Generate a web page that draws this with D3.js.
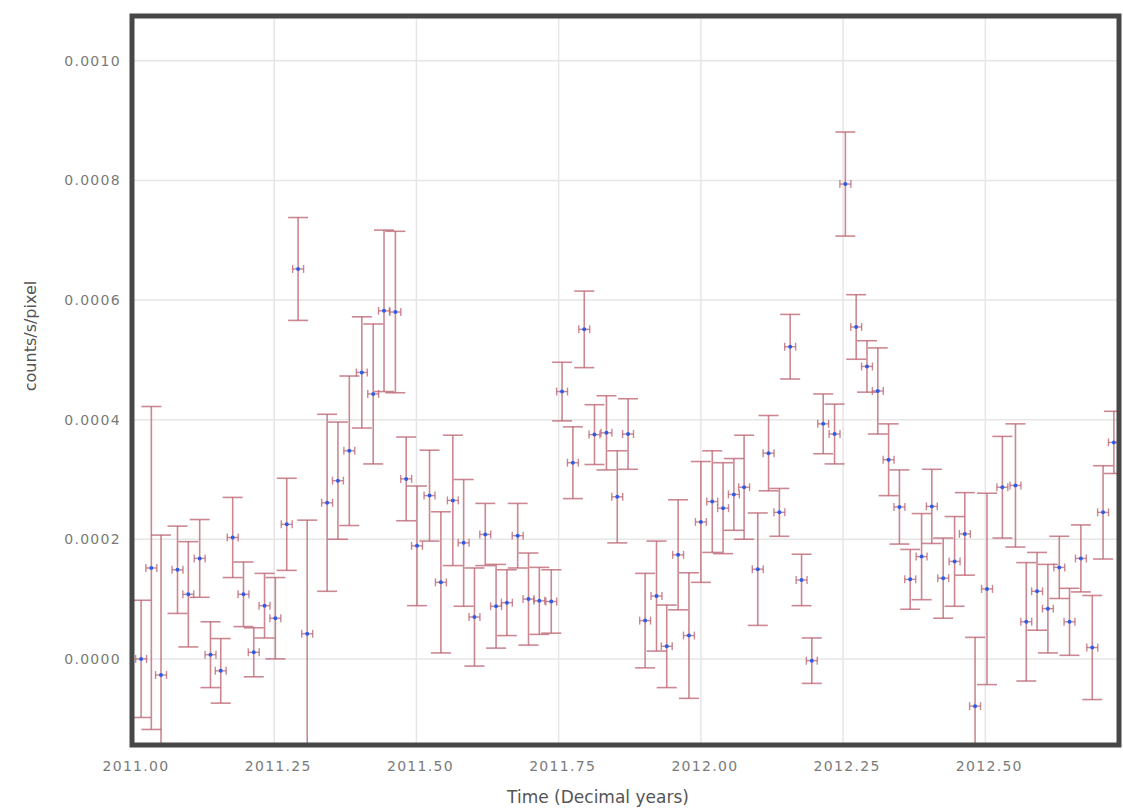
<!DOCTYPE html>
<html lang="en">
<head>
    <meta charset="UTF-8"/>
    <title>Light curve</title>
    <script src="https://d3js.org/d3.v7.min.js"></script>
    <style type="text/css">
        body {
            margin: 0;
            background: #fff;
        }
        text {
            font-family: "DejaVu Sans", Verdana, sans-serif;
        }
        .tick-label {
            font-size: 14px;
            fill: #7a7a7a;
            letter-spacing: 1.3px;
        }
        .axis-title {
            fill: #555;
        }
    </style>
</head>
<body>
<div id="chart"></div>
<script>
    // time of each bin (decimal years)
    const times = [
        2011.016, 2011.034, 2011.051, 2011.080, 2011.099, 2011.119, 2011.138, 2011.156, 2011.177, 2011.196,
        2011.214, 2011.233, 2011.252, 2011.272, 2011.292, 2011.308, 2011.343, 2011.362, 2011.382, 2011.404,
        2011.424, 2011.443, 2011.463, 2011.482, 2011.501, 2011.523, 2011.543, 2011.564, 2011.583, 2011.602,
        2011.621, 2011.640, 2011.659, 2011.678, 2011.697, 2011.716, 2011.737, 2011.756, 2011.775, 2011.795,
        2011.813, 2011.834, 2011.853, 2011.872, 2011.902, 2011.922, 2011.940, 2011.960, 2011.979, 2012.000,
        2012.020, 2012.039, 2012.058, 2012.076, 2012.100, 2012.119, 2012.138, 2012.157, 2012.177, 2012.195,
        2012.215, 2012.235, 2012.254, 2012.273, 2012.292, 2012.311, 2012.330, 2012.349, 2012.368, 2012.388,
        2012.406, 2012.426, 2012.446, 2012.464, 2012.482, 2012.503, 2012.530, 2012.553, 2012.572, 2012.591,
        2012.610, 2012.630, 2012.648, 2012.668, 2012.688, 2012.707, 2012.726
    ];

    // count rate (counts/s/pixel)
    const rates = [
        0.000000, 0.000152, -0.000027, 0.000149, 0.000108, 0.000168, 0.000007, -0.000020, 0.000203, 0.000108,
        0.000011, 0.000089, 0.000068, 0.000225, 0.000652, 0.000042, 0.000261, 0.000298, 0.000348, 0.000479,
        0.000443, 0.000582, 0.000580, 0.000301, 0.000189, 0.000273, 0.000128, 0.000265, 0.000194, 0.000070,
        0.000208, 0.000088, 0.000094, 0.000206, 0.000100, 0.000097, 0.000096, 0.000447, 0.000328, 0.000551,
        0.000375, 0.000378, 0.000271, 0.000376, 0.000064, 0.000105, 0.000021, 0.000174, 0.000039, 0.000229,
        0.000263, 0.000252, 0.000275, 0.000287, 0.000150, 0.000344, 0.000245, 0.000522, 0.000132, -0.000003,
        0.000393, 0.000376, 0.000794, 0.000555, 0.000489, 0.000448, 0.000333, 0.000254, 0.000133, 0.000171,
        0.000255, 0.000135, 0.000163, 0.000209, -0.000079, 0.000117, 0.000287, 0.000290, 0.000062, 0.000113,
        0.000084, 0.000153, 0.000062, 0.000168, 0.000019, 0.000245, 0.000362
    ];

    // 1-sigma error on the rate
    const errors = [
        0.000098, 0.000270, 0.000234, 0.000073, 0.000088, 0.000065, 0.000055, 0.000054, 0.000067, 0.000054,
        0.000041, 0.000054, 0.000068, 0.000077, 0.000086, 0.000190, 0.000148, 0.000098, 0.000125, 0.000093,
        0.000117, 0.000135, 0.000135, 0.000070, 0.000100, 0.000076, 0.000118, 0.000109, 0.000106, 0.000082,
        0.000052, 0.000070, 0.000055, 0.000054, 0.000077, 0.000056, 0.000053, 0.000049, 0.000060, 0.000064,
        0.000050, 0.000062, 0.000077, 0.000059, 0.000079, 0.000092, 0.000069, 0.000092, 0.000105, 0.000101,
        0.000085, 0.000076, 0.000060, 0.000087, 0.000094, 0.000063, 0.000040, 0.000054, 0.000043, 0.000038,
        0.000050, 0.000050, 0.000087, 0.000054, 0.000043, 0.000072, 0.000060, 0.000062, 0.000050, 0.000072,
        0.000062, 0.000067, 0.000075, 0.000069, 0.000115, 0.000160, 0.000085, 0.000103, 0.000099, 0.000065,
        0.000074, 0.000052, 0.000056, 0.000056, 0.000087, 0.000078, 0.000052
    ];

    // half width of each time bin (years)
    const binHalfWidth = 0.0096;

    const xTicks = [2011.00, 2011.25, 2011.50, 2011.75, 2012.00, 2012.25, 2012.50];
    const yTicks = [0.0000, 0.0002, 0.0004, 0.0006, 0.0008, 0.0010];

    const data = times.map(function(t, i) {
        return {t: t, v: rates[i], e: errors[i]};
    });

    // plot box in page pixels
    const W = 1123, H = 812;
    const box = {left: 132, right: 1119, top: 16, bottom: 745};

    const svg = d3.select("#chart")
        .append("svg")
        .attr("width", W)
        .attr("height", H);

    const x = d3.scaleLinear()
        .domain([2011.0, 2012.735])
        .range([box.left, box.right]);

    const y = d3.scaleLinear()
        .domain([-0.000144, 0.001075])
        .range([box.bottom, box.top]);

    svg.append("defs").append("clipPath")
        .attr("id", "plot-clip")
        .append("rect")
        .attr("x", box.left)
        .attr("y", box.top - 2)
        .attr("width", box.right - box.left)
        .attr("height", box.bottom - box.top + 4);

    // grid
    const grid = svg.append("g");
    grid.selectAll("line.vx")
        .data(xTicks)
        .enter().append("line")
        .attr("x1", d => x(d)).attr("x2", d => x(d))
        .attr("y1", box.top).attr("y2", box.bottom)
        .attr("stroke", "#e6e6e6")
        .attr("stroke-width", 1.5);
    grid.selectAll("line.hy")
        .data(yTicks)
        .enter().append("line")
        .attr("x1", box.left).attr("x2", box.right)
        .attr("y1", d => y(d)).attr("y2", d => y(d))
        .attr("stroke", "#e6e6e6")
        .attr("stroke-width", 1.5);

    // tick labels
    svg.append("g")
        .selectAll("text")
        .data(yTicks)
        .enter().append("text")
        .attr("class", "tick-label")
        .attr("x", 121)
        .attr("y", d => y(d))
        .attr("text-anchor", "end")
        .attr("dominant-baseline", "central")
        .text(d => d3.format(".4f")(d));

    svg.append("g")
        .selectAll("text")
        .data(xTicks)
        .enter().append("text")
        .attr("class", "tick-label")
        .attr("x", d => x(d) + 4)
        .attr("y", 771)
        .attr("text-anchor", "middle")
        .text(d => d3.format(".2f")(d));

    // axis titles
    svg.append("text")
        .attr("class", "axis-title")
        .attr("x", 598)
        .attr("y", 803)
        .attr("text-anchor", "middle")
        .style("font-size", "17px")
        .text("Time (Decimal years)");

    svg.append("text")
        .attr("class", "axis-title")
        .attr("transform", "translate(36,336) rotate(-90)")
        .attr("text-anchor", "middle")
        .style("font-size", "16px")
        .text("counts/s/pixel");

    // error bars and points
    const yMin = y.domain()[0];
    const errColor = "#b9606d";
    const marks = svg.append("g").attr("clip-path", "url(#plot-clip)");
    const capHalf = 10;

    const pts = marks.selectAll("g.pt")
        .data(data)
        .enter().append("g")
        .attr("class", "pt");

    // vertical error bar
    pts.append("line")
        .attr("x1", d => x(d.t)).attr("x2", d => x(d.t))
        .attr("y1", d => y(d.v + d.e))
        .attr("y2", d => y(Math.max(yMin, d.v - d.e)))
        .attr("stroke", errColor).attr("stroke-opacity", 0.75).attr("stroke-width", 1.6);
    pts.append("line")
        .attr("x1", d => x(d.t) - capHalf).attr("x2", d => x(d.t) + capHalf)
        .attr("y1", d => y(d.v + d.e)).attr("y2", d => y(d.v + d.e))
        .attr("stroke", errColor).attr("stroke-opacity", 0.75).attr("stroke-width", 1.6);
    pts.append("line")
        .attr("x1", d => x(d.t) - capHalf).attr("x2", d => x(d.t) + capHalf)
        .attr("y1", d => y(Math.max(yMin, d.v - d.e))).attr("y2", d => y(Math.max(yMin, d.v - d.e)))
        .attr("stroke", errColor).attr("stroke-opacity", 0.75).attr("stroke-width", 1.6);

    // horizontal (bin width) error bar
    pts.append("line")
        .attr("x1", d => x(d.t - binHalfWidth)).attr("x2", d => x(d.t + binHalfWidth))
        .attr("y1", d => y(d.v)).attr("y2", d => y(d.v))
        .attr("stroke", errColor).attr("stroke-opacity", 0.75).attr("stroke-width", 1.4);
    pts.append("line")
        .attr("x1", d => x(d.t - binHalfWidth)).attr("x2", d => x(d.t - binHalfWidth))
        .attr("y1", d => y(d.v) - 4).attr("y2", d => y(d.v) + 4)
        .attr("stroke", errColor).attr("stroke-opacity", 0.75).attr("stroke-width", 1.4);
    pts.append("line")
        .attr("x1", d => x(d.t + binHalfWidth)).attr("x2", d => x(d.t + binHalfWidth))
        .attr("y1", d => y(d.v) - 4).attr("y2", d => y(d.v) + 4)
        .attr("stroke", errColor).attr("stroke-opacity", 0.75).attr("stroke-width", 1.4);

    pts.append("circle")
        .attr("cx", d => x(d.t))
        .attr("cy", d => y(d.v))
        .attr("r", 2)
        .attr("fill", "#2f5be8");

    // frame
    svg.append("rect")
        .attr("x", box.left)
        .attr("y", box.top)
        .attr("width", box.right - box.left)
        .attr("height", box.bottom - box.top)
        .attr("fill", "none")
        .attr("stroke", "#474747")
        .attr("stroke-width", 5);
</script>
</body>
</html>
